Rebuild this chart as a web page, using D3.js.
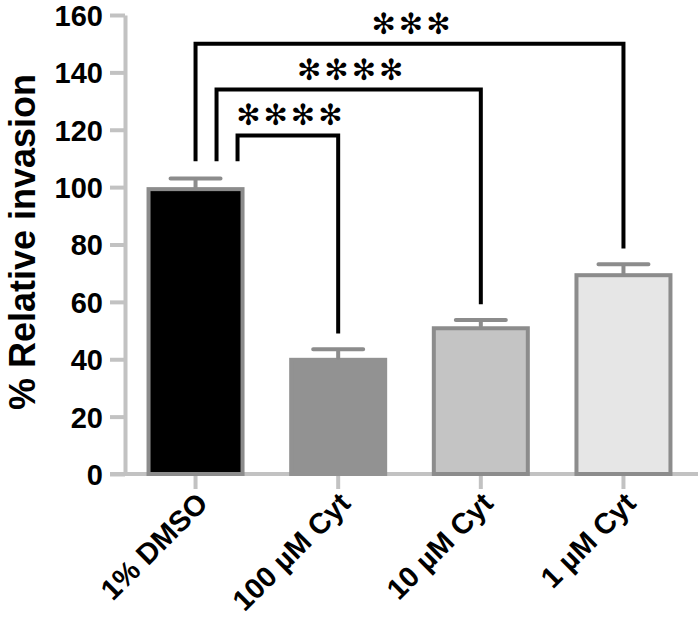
<!DOCTYPE html>
<html>
<head>
<meta charset="utf-8">
<script src="https://cdn.jsdelivr.net/npm/d3@7"></script>
<style>
  body { margin: 0; background: #fff; }
  svg { display: block; font-family: "Liberation Sans", Arial, sans-serif; }
</style>
</head>
<body>
<script>
// data
const groups = ["1% DMSO", "100 \u00B5M Cyt", "10 \u00B5M Cyt", "1 \u00B5M Cyt"];
const means = [100, 40.5, 51.5, 70];
const sems = [3, 3, 2.2, 3.1];
const barFills = ["#000000", "#929292", "#c4c4c4", "#e6e6e6"];
const yTicks = [0, 20, 40, 60, 80, 100, 120, 140, 160];
// significance brackets: control vs each dose
const cmpFrom = [0, 0, 0];
const cmpTo = [1, 2, 3];
const cmpTop = [118, 134, 150];
const cmpStars = ["****", "****", "***"];

const W = 700, H = 637;
const svg = d3.select('body').append('svg')
    .attr('width', W)
    .attr('height', H);

const y = d3.scaleLinear().domain([0, 160]).range([474, 15]);
const x = d3.scaleBand().domain(groups).range([124, 695])
    .paddingInner(0.313).paddingOuter(0.158);

const axisCol = "#c2c2c2";

// y axis
const yAxis = svg.append('g')
    .attr('transform', 'translate(125,0)')
    .call(d3.axisLeft(y).tickValues(yTicks).tickSize(15).tickSizeOuter(0).tickPadding(7));
yAxis.select('.domain').attr('stroke', axisCol).attr('stroke-width', 4);
yAxis.selectAll('.tick line').attr('stroke', axisCol).attr('stroke-width', 4);
yAxis.selectAll('.tick text')
    .attr('fill', '#000')
    .style('font-size', '29px')
    .style('font-weight', 'bold')
    .attr('dy', '0.36em');

// x axis
const xAxis = svg.append('g')
    .attr('transform', 'translate(0,474)')
    .call(d3.axisBottom(x).tickSize(15).tickSizeOuter(0).tickFormat(''));
xAxis.select('.domain').attr('d', 'M110,0H698').attr('stroke', axisCol).attr('stroke-width', 4);
xAxis.selectAll('.tick line').attr('stroke', axisCol).attr('stroke-width', 4);

// rotated category labels
svg.append('g').selectAll('text')
    .data(groups)
    .join('text')
    .attr('text-anchor', 'end')
    .attr('transform', d => `translate(${x(d) + x.bandwidth() / 2 + 14},${505}) rotate(-45)`)
    .style('font-size', '29px')
    .style('font-weight', 'bold')
    .text(d => d);

// bars
const bw = x.bandwidth();
svg.append('g').selectAll('rect')
    .data(groups)
    .join('rect')
    .attr('x', d => x(d) + 2)
    .attr('y', (d, i) => y(means[i]) + 2)
    .attr('width', bw - 4)
    .attr('height', (d, i) => y(0) - y(means[i]) - 2)
    .attr('fill', (d, i) => barFills[i])
    .attr('stroke', (d, i) => i == 1 ? "#929292" : "#8c8c8c")
    .attr('stroke-width', 4);

// error bars (upper only)
const err = svg.append('g').attr('stroke', '#8c8c8c').attr('stroke-width', 4).attr('fill', 'none');
groups.forEach((g, i) => {
    const cx = x(g) + bw / 2;
    err.append('path')
        .attr('d', `M${cx},${y(means[i])}V${y(means[i] + sems[i])}M${cx - 25},${y(means[i] + sems[i])}h50`)
        .attr('stroke-linecap', 'round');
});

// brackets
const legOffset = [42, 21, 0];
const br = svg.append('g');
cmpTo.forEach((to, k) => {
    const from = cmpFrom[k];
    const x1 = x(groups[from]) + bw / 2 + legOffset[k];
    const x2 = x(groups[to]) + bw / 2;
    const yTop = y(cmpTop[k]);
    const y1 = y(means[from] + sems[from] + 6);
    const y2 = y(means[to] + sems[to] + 5.5);
    br.append('path')
        .attr('d', `M${x1},${y1}V${yTop}H${x2}V${y2}`)
        .attr('fill', 'none')
        .attr('stroke', '#000')
        .attr('stroke-width', 4);
    br.append('text')
        .attr('x', (x1 + x2) / 2 + 3)
        .attr('y', yTop - 10)
        .attr('text-anchor', 'middle')
        .style('font-family', '"DejaVu Sans", sans-serif')
        .style('font-size', '29px')
        .style('letter-spacing', '3px')
        .text(cmpStars[k].replace(/\*/g, '\u273B'));
});

// y label
svg.append('text')
    .attr('transform', 'translate(35,242) rotate(-90)')
    .attr('text-anchor', 'middle')
    .style('font-size', '36px')
    .style('font-weight', 'bold')
    .text('% Relative invasion');
</script>
</body>
</html>
